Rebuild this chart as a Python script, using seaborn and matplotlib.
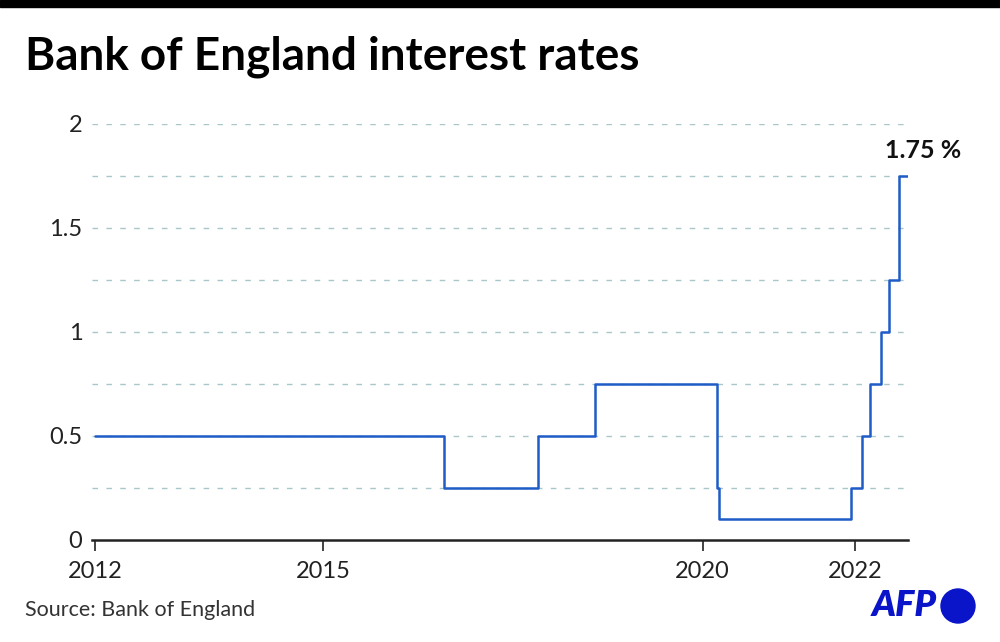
import pandas as pd
import seaborn as sns
import matplotlib.pyplot as plt
from matplotlib.patches import Rectangle, Circle

# Tipos del Banco de Inglaterra (fecha de cambio, tipo en %)
fechas = ["2012-01-01", "2016-08-04", "2017-11-02", "2018-08-02", "2020-03-11",
          "2020-03-19", "2021-12-16", "2022-02-03", "2022-03-17", "2022-05-05",
          "2022-06-16", "2022-08-04", "2022-09-14"]
tipos = [0.5, 0.25, 0.5, 0.75, 0.25, 0.1, 0.25, 0.5, 0.75, 1.0, 1.25, 1.75, 1.75]

anios_ticks = [2012, 2015, 2020, 2022]
y_ticks = [0, 0.5, 1, 1.5, 2]
y_ticks_labels = ["0", "0.5", "1", "1.5", "2"]
y_grid = [0.25, 0.5, 0.75, 1, 1.25, 1.5, 1.75, 2]

df = pd.DataFrame({"fecha": pd.to_datetime(fechas), "tipo": tipos})

sns.set_style("white")
plt.rcParams['font.family'] = ['Lato', 'DejaVu Sans']

fig = plt.figure(figsize=(10, 6.42), dpi=100)
ax = fig.add_axes([0.092, 1 - 540 / 642, (908 - 92) / 1000, (540 - 124) / 642])

# Cuadricula punteada
for g in y_grid:
    ax.axhline(g, color="#a9c6ca", linestyle=(0, (4, 6)), linewidth=1, zorder=0)

sns.lineplot(data=df, x="fecha", y="tipo", drawstyle="steps-post",
             color="#1f5cc7", linewidth=1.8, ax=ax, zorder=3)

# Limites
x0 = pd.Timestamp("2012-01-01") - pd.Timedelta(days=14)
ax.set_xlim(x0, pd.Timestamp("2022-09-14"))
ax.set_ylim(0, 2)

ax.set_xticks([pd.Timestamp(f"{a}-01-01") for a in anios_ticks])
ax.set_xticklabels([str(a) for a in anios_ticks])
ax.set_yticks(y_ticks)
ax.set_yticklabels(y_ticks_labels)
ax.tick_params(axis="x", length=8, width=1.2, color="#222222", labelsize=17,
               labelcolor="#222222", pad=7, direction="out", bottom=True)
ax.tick_params(axis="y", length=0, labelsize=17, labelcolor="#222222", pad=7)
ax.set_xlabel("")
ax.set_ylabel("")

for s in ["top", "right", "left"]:
    ax.spines[s].set_visible(False)
ax.spines["bottom"].set_color("#222222")
ax.spines["bottom"].set_linewidth(1.8)

# Etiqueta del ultimo valor
ax.annotate("1.75 %", xy=(df["fecha"].iloc[-1], tipos[-1]), xytext=(15, 26),
            textcoords="offset pixels", ha="center", va="center",
            fontsize=18, fontweight="bold", color="#111111", annotation_clip=False)

# Barra negra superior
fig.patches.append(Rectangle((0, 1 - 7 / 642), 1, 7 / 642, transform=fig.transFigure,
                             color="black", zorder=10))

# Titulo y fuente
fig.text(0.025, 1 - 57 / 642, "Bank of England interest rates", fontsize=33,
         fontweight="bold", color="black", va="center", ha="left")
fig.text(0.025, 1 - 610 / 642, "Source: Bank of England", fontsize=15.5,
         color="#333333", va="center", ha="left")

# Logo AFP
fig.text(0.937, 1 - 606 / 642, "AFP", fontsize=26, fontweight="heavy", style="italic",
         color="#0a14c8", va="center", ha="right")
fig.patches.append(Circle((9.58, (642 - 606) / 100), 0.17, transform=fig.dpi_scale_trans,
                          color="#0a14c8"))

plt.savefig("out.png", dpi=100)
